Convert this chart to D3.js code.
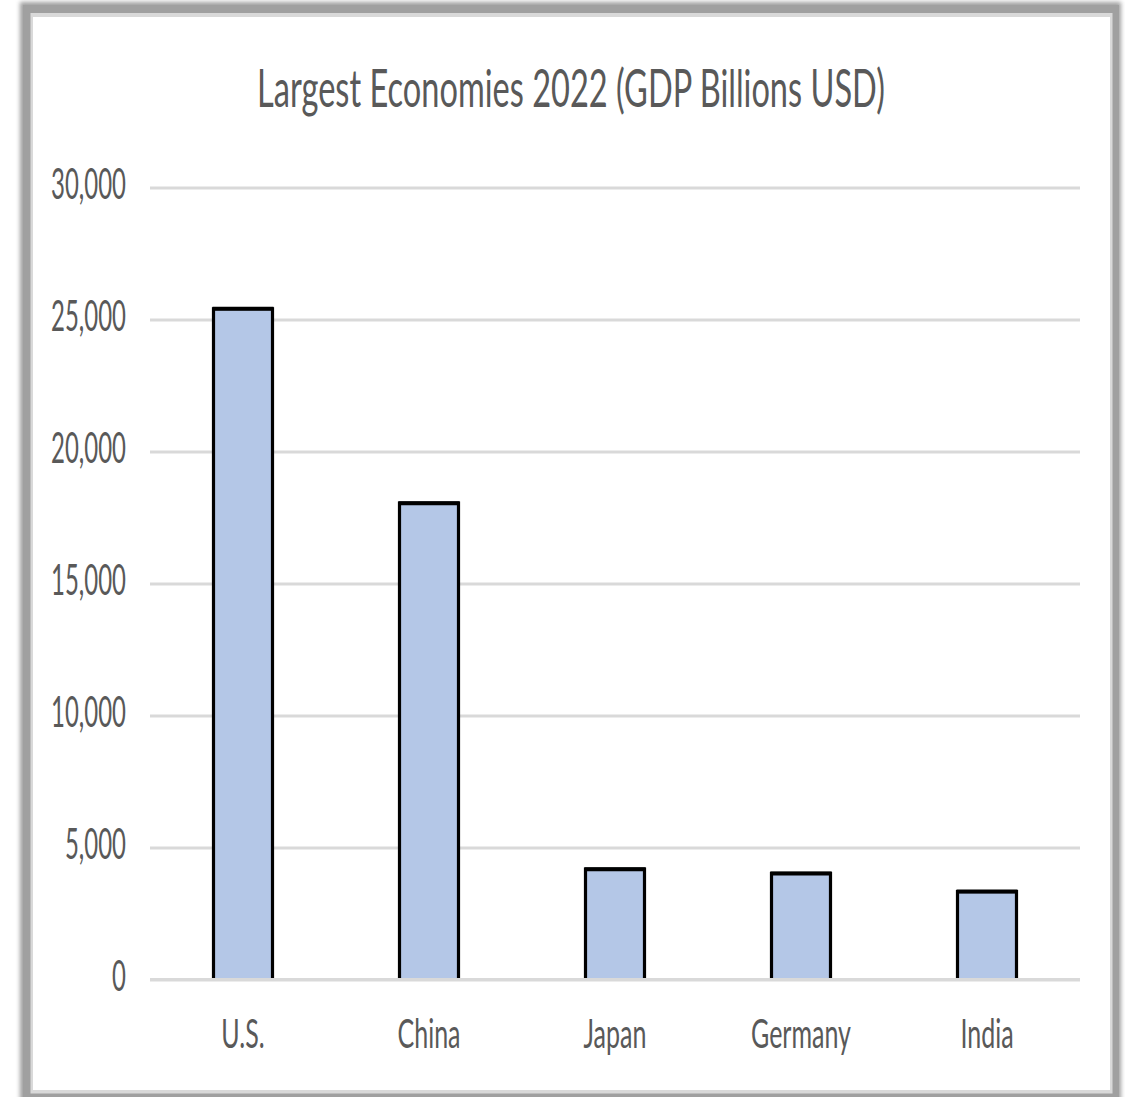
<!DOCTYPE html>
<html>
<head>
<meta charset="utf-8">
<script src="https://cdn.jsdelivr.net/npm/d3@7"></script>
<style>
  html, body { margin: 0; padding: 0; background: #ffffff; }
  svg { display: block; }
  text { font-family: Lato, "Open Sans", "DejaVu Sans", sans-serif; fill: #595959; }
</style>
</head>
<body>
<svg id="chart" width="1125" height="1097"></svg>
<script>
// GDP of the five largest economies, 2022 (billions of US dollars)
const countries = ["U.S.", "China", "Japan", "Germany", "India"];
const gdp = [25464, 18100, 4234, 4075, 3386];
const yTicks = [0, 5000, 10000, 15000, 20000, 25000, 30000];
const title = "Largest Economies 2022 (GDP Billions USD)";

const svg = d3.select("#chart");
const W = 1125, H = 1097;

// Card frame: gray shadow, thin light border, white face
const defs = svg.append("defs");
defs.append("filter").attr("id", "soft")
  .attr("x", "-5%").attr("y", "-5%").attr("width", "110%").attr("height", "110%")
  .append("feGaussianBlur").attr("stdDeviation", 2);

svg.append("rect").attr("width", W).attr("height", H).attr("fill", "#ffffff");
svg.append("rect")
  .attr("x", 20).attr("y", 2).attr("width", 1101).attr("height", 1102)
  .attr("fill", "#a0a0a0").attr("filter", "url(#soft)");
svg.append("rect")
  .attr("x", 23).attr("y", 5).attr("width", 1096).attr("height", 1096)
  .attr("fill", "#a0a0a0");
svg.append("rect")
  .attr("x", 30.5).attr("y", 13).attr("width", 1082).attr("height", 1080.5)
  .attr("fill", "#d9d9d9");
svg.append("rect")
  .attr("x", 33).attr("y", 17).attr("width", 1077).attr("height", 1073)
  .attr("fill", "#ffffff");

// Plot area
const plot = { left: 150, right: 1080, top: 187.5, bottom: 979.5 };

const x = d3.scaleBand()
  .domain(countries)
  .range([plot.left, plot.right])
  .paddingInner(2 / 3)
  .paddingOuter(1 / 3);

const y = d3.scaleLinear()
  .domain([0, 30000])
  .range([plot.bottom, plot.top]);

// Condensed text: horizontal scale so a sample string fills a given width
function condense(sample, targetWidth, fontSize) {
  const probe = svg.append("text").attr("font-size", fontSize).text(sample);
  const w = probe.node().getComputedTextLength();
  probe.remove();
  return targetWidth / w;
}

// Gridlines and y tick labels
const tickFont = 42;
const tickSx = condense("30,000", 75, tickFont);
const yAxis = d3.axisLeft(y)
  .tickValues(yTicks)
  .tickSize(-(plot.right - plot.left))
  .tickFormat(d3.format(","));

const yg = svg.append("g")
  .attr("transform", `translate(${plot.left},0)`)
  .call(yAxis);
yg.select(".domain").remove();
yg.selectAll(".tick line")
  .attr("stroke", "#d9d9d9")
  .attr("stroke-width", 3);
yg.selectAll(".tick text")
  .attr("x", null).attr("dy", null)
  .attr("font-size", tickFont)
  .attr("text-anchor", "end")
  .attr("fill", "#595959")
  .attr("transform", `translate(-24,11) scale(${tickSx},1)`);

// Bars: light blue fill with a black outline on the sides and top
const rows = countries.map((c, i) => ({ c, v: gdp[i] }));
const bars = svg.append("g");
const bw = x.bandwidth();
bars.selectAll("rect.fill")
  .data(rows)
  .join("rect")
  .attr("class", "fill")
  .attr("x", d => x(d.c))
  .attr("y", d => y(d.v))
  .attr("width", bw)
  .attr("height", d => y(0) - y(d.v))
  .attr("fill", "#b4c7e7");
bars.selectAll("path.edge")
  .data(rows)
  .join("path")
  .attr("class", "edge")
  .attr("d", d => {
    const x0 = x(d.c) + 1.5, x1 = x(d.c) + bw - 1.5;
    const yt = y(d.v) + 1.5, yb = y(0) - 1.5;
    return `M${x0},${yb}V${yt}H${x1}V${yb}`;
  })
  .attr("fill", "none")
  .attr("stroke", "#000000")
  .attr("stroke-width", 3.2);
bars.selectAll("line.cap")
  .data(rows)
  .join("line")
  .attr("class", "cap")
  .attr("x1", d => x(d.c) + 0.5)
  .attr("x2", d => x(d.c) + bw - 0.5)
  .attr("y1", d => y(d.v) + 1.5)
  .attr("y2", d => y(d.v) + 1.5)
  .attr("stroke", "#000000")
  .attr("stroke-width", 4);

// Baseline gridline drawn over the bar feet
svg.append("line")
  .attr("x1", plot.left).attr("x2", plot.right)
  .attr("y1", y(0)).attr("y2", y(0))
  .attr("stroke", "#d9d9d9").attr("stroke-width", 3);

// Category labels
const catFont = 41;
const catSx = condense("Germany", 100, catFont);
const xAxis = d3.axisBottom(x).tickSize(0).tickPadding(0);
const xg = svg.append("g")
  .attr("transform", `translate(0,${plot.bottom})`)
  .call(xAxis);
xg.select(".domain").remove();
xg.selectAll(".tick text")
  .attr("y", null).attr("dy", null)
  .attr("font-size", catFont)
  .attr("text-anchor", "middle")
  .attr("fill", "#595959")
  .attr("transform", `translate(0,68.5) scale(${catSx},1)`);

// Title
const titleFont = 53;
const titleSx = condense(title, 628, titleFont);
svg.append("text")
  .attr("font-size", titleFont)
  .attr("text-anchor", "middle")
  .attr("transform", `translate(571,107) scale(${titleSx},1)`)
  .text(title);
</script>
</body>
</html>
